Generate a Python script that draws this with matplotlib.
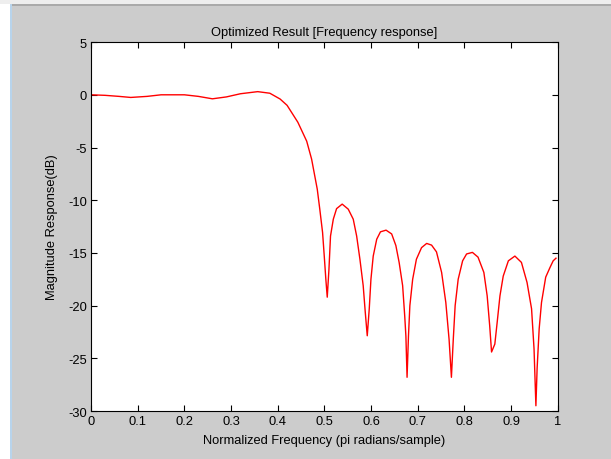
import numpy as np
import matplotlib.pyplot as plt
from matplotlib.patches import Rectangle

plt.rcParams['font.family'] = ['Liberation Sans', 'DejaVu Sans']

# normalized frequency (x pi rad/sample) and magnitude (dB)
freq = [0.0, 0.03, 0.06, 0.085, 0.12, 0.15, 0.2, 0.23, 0.26, 0.29, 0.32,
        0.357, 0.383, 0.405, 0.42,
        0.443, 0.462, 0.4725, 0.4846, 0.490, 0.496, 0.4996, 0.503, 0.506,
        0.5096, 0.513, 0.519, 0.526, 0.538, 0.551, 0.5617, 0.569, 0.576, 0.583,
        0.5874, 0.5917, 0.596, 0.5996, 0.6045, 0.612, 0.620, 0.632, 0.644,
        0.653, 0.660, 0.6675, 0.672, 0.6745, 0.677, 0.680, 0.683, 0.689, 0.697,
        0.708, 0.719, 0.7295, 0.740, 0.751, 0.760, 0.767, 0.772, 0.776, 0.780,
        0.7865, 0.796, 0.8045, 0.817, 0.829, 0.8415, 0.8486, 0.854, 0.858,
        0.865, 0.870, 0.876, 0.883, 0.894, 0.908, 0.922, 0.934, 0.9437, 0.949,
        0.953, 0.9556, 0.960, 0.965, 0.974, 0.983, 0.990, 0.996]
mag_db = [0.0, -0.05, -0.15, -0.25, -0.15, 0.0, 0.0, -0.15, -0.38, -0.2, 0.1,
          0.3, 0.15, -0.4, -1.0,
          -2.6, -4.4, -6.1, -8.95, -10.84, -13.06, -15.3, -17.5, -19.2,
          -16.6, -13.4, -11.8, -10.8, -10.37, -10.85, -11.8, -13.4, -15.6, -18.1,
          -20.6, -22.86, -20.3, -17.5, -15.3, -13.7, -13.0, -12.84, -13.2,
          -14.3, -15.9, -18.1, -21.0, -22.9, -26.8, -22.9, -20.0, -17.5, -15.6,
          -14.5, -14.1, -14.26, -14.9, -16.85, -19.7, -23.2, -26.8, -23.2, -20.0,
          -17.5, -15.75, -15.1, -14.95, -15.4, -16.85, -19.07, -21.9, -24.4,
          -23.65, -21.6, -19.07, -17.2, -15.75, -15.3, -15.9, -17.8, -20.3, -24.1,
          -29.5, -25.96, -22.2, -19.7, -17.3, -16.4, -15.75, -15.5]

xticks = np.arange(0, 1.01, 0.1)
yticks = np.arange(-30, 6, 5)

fig = plt.figure(figsize=(6.11, 4.6), dpi=100, facecolor='#cccccc')
# window chrome around the figure
fig.patches.append(Rectangle((0, 0), 10 / 611, 1, transform=fig.transFigure,
                             facecolor='white', edgecolor='none'))
fig.patches.append(Rectangle((10 / 611, 0), 1.5 / 611, 1, transform=fig.transFigure,
                             facecolor='#b8d4ec', edgecolor='none'))
fig.patches.append(Rectangle((0, 1 - 5 / 460), 1, 5 / 460, transform=fig.transFigure,
                             facecolor='#eeeeee', edgecolor='none'))
fig.patches.append(Rectangle((11.5 / 611, 1 - 7 / 460), 1, 2 / 460, transform=fig.transFigure,
                             facecolor='#aaaaaa', edgecolor='none'))

ax = fig.add_axes([0.149, 0.1043, 0.764, 0.802])
ax.set_facecolor('white')
ax.plot(freq, mag_db, color='red', lw=1.0)

ax.set_xlim(0, 1)
ax.set_ylim(-30, 5)
ax.set_xticks(xticks)
ax.set_xticklabels(['0', '0.1', '0.2', '0.3', '0.4', '0.5', '0.6', '0.7', '0.8', '0.9', '1'])
ax.set_yticks(yticks)
ax.set_yticklabels([str(v) for v in yticks])
ax.tick_params(direction='in', top=True, right=True, length=4, width=0.8,
               labelsize=9.3, pad=3, colors='black')
for s in ax.spines.values():
    s.set_linewidth(0.8)

ax.set_title('Optimized Result [Frequency response]', fontsize=9.3, pad=5)
ax.set_xlabel('Normalized Frequency (pi radians/sample)', fontsize=9.3, labelpad=5)
ax.set_ylabel('Magnitude Response(dB)', fontsize=9.3, labelpad=7)

fig.savefig('out.png', dpi=100, facecolor=fig.get_facecolor())
